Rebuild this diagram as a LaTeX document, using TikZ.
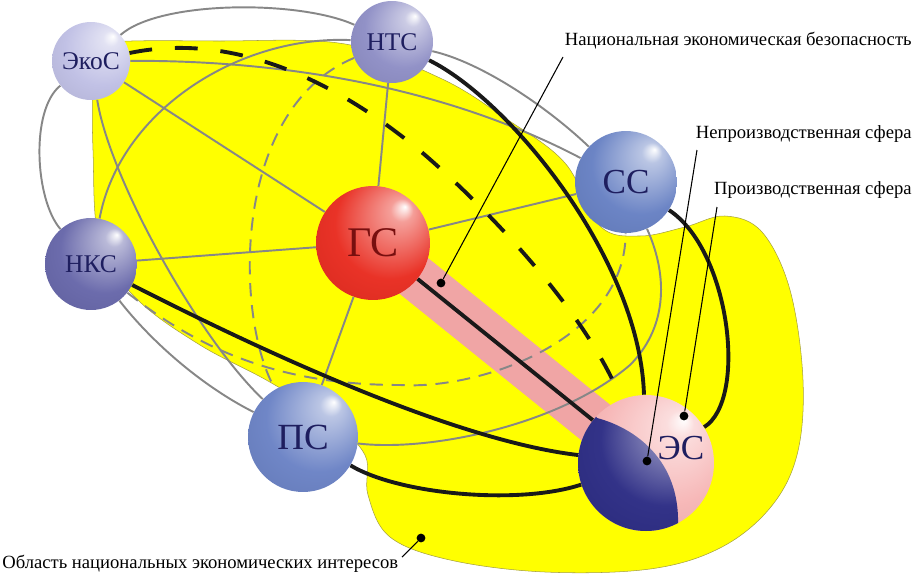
\documentclass[tikz,border=0pt]{standalone}
\usepackage{fontspec}
\setmainfont{Liberation Serif}
\usepackage{tikz}
\usetikzlibrary{backgrounds}

\definecolor{sphcol}{RGB}{128,128,128}
\definecolor{navytext}{RGB}{30,30,95}
\definecolor{gstext}{RGB}{120,15,15}
\definecolor{zoneyellow}{RGB}{255,255,0}
\definecolor{bandpink}{RGB}{240,165,165}
\definecolor{linkgray}{RGB}{135,135,135}
\definecolor{ecoscol}{RGB}{190,190,228}
\definecolor{ntscol}{RGB}{140,140,196}
\definecolor{nkscol}{RGB}{100,100,168}
\definecolor{sscol}{RGB}{100,126,194}
\definecolor{pscol}{RGB}{104,128,196}
\definecolor{gscol}{RGB}{232,40,28}
\definecolor{espink}{RGB}{246,180,180}
\definecolor{esblue}{RGB}{40,40,130}

\pgfdeclareradialshading[sphcol]{glossy}{\pgfpoint{14bp}{16bp}}{%
  color(0bp)=(white); color(5bp)=(sphcol!45!white);
  color(24bp)=(sphcol!95!white); color(50bp)=(sphcol!88!black)}

\begin{document}
\begin{tikzpicture}[x=0.02cm, y=-0.02cm,
    ballnode/.style={circle, inner sep=0pt, minimum size=#1, shading=glossy, text=navytext},
    ballc/.code={\colorlet{sphcol}{#1}},
    graylink/.style={draw=linkgray, line width=1.1pt},
    graydash/.style={graylink, dash pattern=on 7.5pt off 5pt},
    blacklink/.style={draw=black!90, line width=2.2pt},
    blackdash/.style={blacklink, dash pattern=on 13pt off 13pt},
    leader/.style={draw=black, line width=0.6pt},
    tipdot/.style={circle, fill=black, inner sep=0pt, minimum size=5pt},
    callout/.style={inner sep=0pt, font=\fontsize{10.6}{12}\selectfont}]
    \useasboundingbox (0,0) rectangle (917,575);

    % Spheres
    \node[ballnode=1.56cm, ballc=ecoscol, font=\fontsize{14.5}{16}\selectfont] (EkoS) at (91,61) {ЭкоС};
    \node[ballnode=1.64cm, ballc=ntscol, font=\fontsize{14.5}{16}\selectfont] (NTS) at (392,42) {НТС};
    \node[ballnode=1.84cm, ballc=nkscol, font=\fontsize{14.5}{16}\selectfont] (NKS) at (91,264) {НКС};
    \node[ballnode=2.04cm, ballc=sscol, font=\fontsize{20}{22}\selectfont] (SS) at (626,182) {СС};
    \node[ballnode=2.2cm, ballc=pscol, font=\fontsize{21}{23}\selectfont] (PS) at (303,437) {ПС};
    \node[ballnode=2.28cm, ballc=gscol, text=gstext, font=\fontsize{24}{26}\selectfont] (GS) at (373,243) {ГС};
    \node[ballnode=2.72cm, ballc=espink] (ES) at (646,463) {};
    % blue half of ES
    \begin{scope}
        \clip (597,418) .. controls (635,428) and (680,460) .. (678,525) -- (690,560)
            -- (560,560) -- (560,400) -- (585,400) -- cycle;
        \shade[ballc=esblue, shading=glossy] (ES.center) circle[radius=68];
    \end{scope}
    \node[text=navytext, font=\fontsize{20}{22}\selectfont] (ESlbl) at (681,448) {ЭС};

    % Zone and band
    \begin{scope}[on background layer]
        \fill[zoneyellow, draw=yellow!60!black, line width=0.3pt] plot[smooth cycle, tension=0.6] coordinates {
            (97,44) (220,41) (345,44) (440,78) (505,118) (565,163) (600,226) (640,236)
            (685,227) (725,216) (762,232) (790,290) (803,380) (797,455) (770,508)
            (720,548) (650,569) (545,572) (450,560) (390,537) (368,495) (365,455)
            (330,420) (268,381) (200,345) (138,300) (100,245) (93,150) (93,70)};
        \draw[bandpink, line width=26pt] (GS.center) -- (ES.center);
    \end{scope}

    % Gray links
    \draw[graylink] (EkoS) .. controls (160,0) and (300,0) .. (NTS);
    \draw[graylink] (NTS) .. controls (480,62) and (545,105) .. (SS);
    \draw[graylink] (EkoS) .. controls (330,60) and (480,105) .. (SS);
    \draw[graylink] (NTS) .. controls (240,35) and (120,110) .. (NKS);
    \draw[graylink] (EkoS) .. controls (30,110) and (35,200) .. (NKS);
    \draw[graylink] (EkoS) .. controls (110,180) and (200,340) .. (PS);
    \draw[graylink] (NKS) .. controls (150,340) and (200,385) .. (PS);
    \draw[graylink] (PS) .. controls (430,452) and (560,425) .. (630,365)
        .. controls (665,330) and (670,280) .. (SS);
    \draw[graylink] (GS) -- (EkoS);
    \draw[graylink] (GS) -- (NTS);
    \draw[graylink] (GS) -- (NKS);
    \draw[graylink] (GS) -- (SS);
    \draw[graylink] (GS) -- (PS);
    \draw[graydash] (NTS) .. controls (230,110) and (235,320) .. (PS);
    \draw[graydash] (NKS) .. controls (200,350) and (280,385) .. (400,385)
        .. controls (480,390) and (625,340) .. (SS);

    % Black links to ES
    \draw[blacklink] (GS) -- (ES);
    \draw[blacklink] (NTS) .. controls (510,100) and (640,260) .. (ES);
    \draw[blacklink] (SS) .. controls (730,250) and (748,400) .. (ES);
    \draw[blacklink] (NKS) .. controls (250,345) and (450,440) .. (ES);
    \draw[blacklink] (PS) .. controls (400,495) and (520,505) .. (ES);
    \draw[blackdash] (EkoS) .. controls (250,28) and (360,100) .. (425,155)
        .. controls (500,220) and (590,320) .. (ES);

    % Callouts
    \node[callout, anchor=base east] (lblNEB) at (912,45) {Национальная экономическая безопасность};
    \node[callout, anchor=base east] (lblNPS) at (912,138) {Непроизводственная сфера};
    \node[callout, anchor=base east] (lblPS) at (912,194) {Производственная сфера};
    \node[callout, anchor=base west] (lblONEI) at (2,568) {Область национальных экономических интересов};
    \coordinate (cNEB) at (563,57);
    \coordinate (cNPS) at (697,150);
    \coordinate (cPS) at (717,207);
    \coordinate (cONEI) at (402,557);
    \node[tipdot] (dNEB) at (441,283) {};
    \node[tipdot] (dNPS) at (647,461) {};
    \node[tipdot] (dPS) at (684,416) {};
    \node[tipdot] (dONEI) at (421,538) {};
    \draw[leader] (cNEB) -- (dNEB);
    \draw[leader] (cNPS) -- (dNPS);
    \draw[leader] (cPS) -- (dPS);
    \draw[leader] (cONEI) -- (dONEI);
\end{tikzpicture}
\end{document}
